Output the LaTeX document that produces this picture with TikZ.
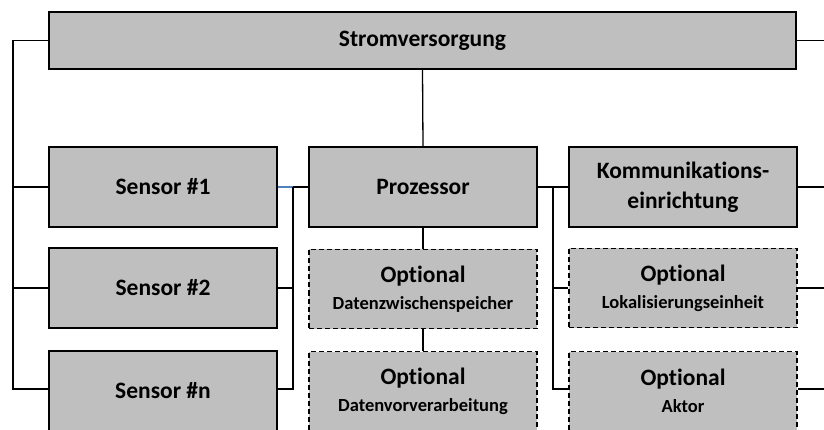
\documentclass[tikz,border=0pt]{standalone}
\usepackage{fontspec}
\setmainfont{Carlito}[Ligatures=NoCommon]
\definecolor{boxgray}{RGB}{191,191,191}
\definecolor{linkblue}{RGB}{79,129,189}
\newcommand{\optsub}{\fontsize{18.5}{20}\selectfont}
\begin{document}
\begin{tikzpicture}[
    x=1pt, y=-1pt,
    block/.style={rectangle, draw, line width=1.5pt, fill=boxgray, minimum width=228pt, minimum height=80pt, inner sep=0pt, align=center, font=\fontsize{23.5}{30}\selectfont\bfseries},
    optblock/.style={block, dashed, dash pattern=on 5pt off 3pt, minimum height=79pt},
    wire/.style={line width=1.3pt}
]
    \useasboundingbox (0,0) rectangle (824,430);

    % Supply
    \node[block, minimum width=747pt, minimum height=57pt] (strom) at (422.5,40.5) {Stromversorgung};

    % Sensors
    \node[block] (sensorA) at (163,187) {Sensor \#1};
    \node[block] (sensorB) at (163,288) {Sensor \#2};
    \node[block] (sensorN) at (163,391) {Sensor \#n};

    % Processor column
    \node[block] (proz) at (423,187) {Prozessor};
    \node[optblock] (puffer) at (423,289) {Optional\\[-3pt]{\optsub Datenzwischenspeicher}};
    \node[optblock] (vorverarb) at (423,391) {Optional\\[-3pt]{\optsub Datenvorverarbeitung}};

    % Communication column
    \node[block] (komm) at (683,187) {Kommunikations-\\einrichtung};
    \node[optblock] (lokal) at (683,288) {Optional\\[-3pt]{\optsub Lokalisierungseinheit}};
    \node[optblock] (aktor) at (683,391) {Optional\\[-3pt]{\optsub Aktor}};

    % Bus coordinates
    \coordinate (busL) at (13,389);
    \coordinate (busS) at (293,187);
    \coordinate (busK) at (553,389);
    \coordinate (edgeR) at (824,0);

    % Supply lines
    \draw[wire] (strom.west) -| (busL) -- (sensorN.west |- busL);
    \draw[wire] (sensorA.west) -- (sensorA.west -| busL);
    \draw[wire] (sensorB.west) -- (sensorB.west -| busL);
    \draw[wire] (strom.east) -- (strom.east -| edgeR);
    \draw[wire] (strom.south) -- (proz.north);

    % Sensor bus
    \draw[wire, linkblue] (sensorA.east) -- (busS);
    \draw[wire] (busS) -- (proz.west);
    \draw[wire] (busS) |- (sensorN.east |- busL);
    \draw[wire] (sensorB.east) -- (sensorB.east -| busS);

    % Processor chain
    \draw[wire] (proz.south) -- (puffer.north);
    \draw[wire] (puffer.south) -- (vorverarb.north);

    % Peripheral bus
    \draw[wire] (proz.east) -- (komm.west);
    \draw[wire] (busK |- komm.west) -- (busK) -- (aktor.west |- busK);
    \draw[wire] (lokal.west) -- (lokal.west -| busK);

    % Right edge stubs
    \draw[wire] (komm.east) -- (komm.east -| edgeR);
    \draw[wire] (lokal.east) -- (lokal.east -| edgeR);
    \draw[wire] (aktor.east |- busK) -- (busK -| edgeR);
\end{tikzpicture}
\end{document}
